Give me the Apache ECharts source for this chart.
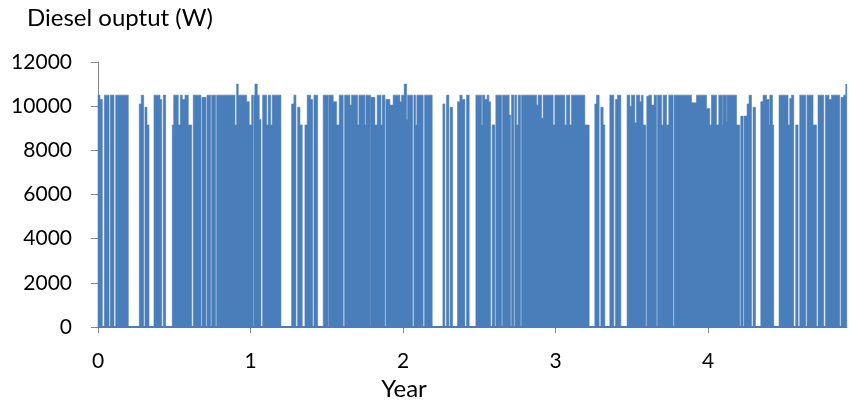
<!DOCTYPE html>
<html>
<head>
<meta charset="utf-8">
<script src="https://cdn.jsdelivr.net/npm/echarts@6/dist/echarts.min.js"></script>
<style>
html,body{margin:0;padding:0;background:#fff;}
#chart{width:849px;height:405px;}
</style>
</head>
<body>
<div id="chart"></div>
<script>
// Diesel output change points: from each year value onward, the output holds the given level (W)
const changeYear = [
0.0000,0.0131,0.0282,0.0413,0.0721,0.0806,0.1048,0.1160,0.1986,0.2706,
0.2837,0.2995,0.3080,0.3211,0.3342,0.3670,0.4063,0.4174,0.4279,0.4436,
0.4869,0.4961,0.5262,0.5393,0.5524,0.5701,0.5917,0.6140,0.6245,0.6750,
0.6815,0.7077,0.7143,0.7385,0.7451,0.7713,0.7779,0.8978,0.9089,0.9194,
0.9744,0.9915,1.0072,1.0177,1.0223,1.0288,1.0439,1.0570,1.0682,1.0793,
1.1055,1.1160,1.1317,1.1422,1.1992,1.2693,1.2844,1.2975,1.3087,1.3237,
1.3388,1.3565,1.3716,1.3939,1.4069,1.4155,1.4397,1.4764,1.5092,1.5130,
1.5419,1.5642,1.5813,1.6075,1.6166,1.6514,1.6625,1.7018,1.7104,1.7497,
1.7562,1.7870,1.7890,1.8152,1.8303,1.8545,1.8631,1.8807,1.8873,1.9135,
1.9351,1.9790,1.9902,2.0072,2.0229,2.0295,2.0623,2.0708,2.0819,2.0904,
2.1317,2.1409,2.1907,2.2608,2.2739,2.2851,2.3001,2.3087,2.3244,2.3572,
2.3722,2.3873,2.4050,2.4161,2.4332,2.4771,2.5144,2.5210,2.5360,2.5511,
2.5623,2.5734,2.5839,2.6016,2.6081,2.6455,2.6520,2.6953,2.7045,2.7110,
2.7261,2.7326,2.7438,2.7543,2.7700,2.7765,2.8748,2.8853,2.9076,2.9181,
2.9836,2.9948,3.0603,3.0714,3.0930,3.1042,3.1913,3.2195,3.2569,3.2680,
3.2851,3.2962,3.3113,3.3224,3.3552,3.3814,3.3925,3.4056,3.4273,3.4685,
3.4862,3.4974,3.5190,3.5301,3.5518,3.5629,3.5734,3.5911,3.5976,3.6107,
3.6284,3.6455,3.6612,3.6678,3.6940,3.7045,3.7267,3.7418,3.7700,3.7765,
3.8906,3.9233,3.9889,4.0105,4.0216,4.0544,4.0695,4.0937,4.0976,4.1199,
4.1239,4.1854,4.2071,4.2136,4.2287,4.2352,4.2549,4.2680,4.2837,4.2942,
4.3099,4.3447,4.3597,4.3820,4.3990,4.4037,4.4214,4.4299,4.4646,4.5236,
4.5347,4.5459,4.5609,4.5740,4.5891,4.6003,4.6396,4.6481,4.6874,4.7097,
4.7202,4.7575,4.7686,4.7923,4.8079,4.8624,4.8709,4.8886,4.9017,4.9083
];
const changeLevel = [
10500,10300,0,10500,0,10500,0,10500,0,10100,
10500,0,9950,9150,0,10500,10300,0,10500,0,
9150,10500,9150,10500,10300,10500,9150,0,10500,0,
10400,0,10500,0,10500,0,10500,9150,11000,10500,
10200,9150,10500,0,10500,11000,10500,9400,0,10500,
9150,10500,9150,10500,0,10100,10500,0,9950,9150,
0,9150,10500,10300,0,10500,0,10500,0,10500,
10200,9150,10500,0,10500,10050,10500,9150,10500,9150,
10500,0,10400,9150,10500,9150,10500,0,10300,10050,
10500,10200,10500,11000,9400,10500,0,10500,9150,10500,
0,10500,0,10100,0,10500,0,9950,0,10200,
10500,10300,0,10500,0,10500,9150,10500,10300,10500,
10200,0,9150,0,10500,0,10500,9600,0,10500,
0,10500,9150,10500,0,10500,10050,10500,9450,10500,
9150,10500,9150,10500,9150,10500,9150,0,10100,10500,
0,9950,9150,0,10500,0,10300,10500,0,10500,
10000,10500,9250,10500,10200,10500,9150,0,10450,10500,
10050,10500,0,10500,9150,10500,9150,10500,0,10500,
10150,10500,9900,9150,10500,9150,10500,9150,10500,9300,
10500,9150,0,9550,0,9550,10100,10500,0,9950,
0,10200,10500,10300,9150,10500,9150,0,10500,9150,
10350,10500,0,9150,0,10500,0,10500,9150,0,
10500,0,10500,10300,10500,0,10400,10500,11000,11000
];
const endYear = 4.9083;
const xTickValues = [0, 1, 2, 3, 4];
const yMin = 0, yMax = 12000, yStep = 2000;
const xMin = 0, xMax = 4.91;

// Group the change points into runs of consecutive "on" intervals: [start, end, level]...
const runs = [];
let cur = null;
changeYear.forEach((x, i) => {
  const next = i + 1 < changeYear.length ? changeYear[i + 1] : endYear;
  const lv = changeLevel[i];
  if (lv > 0 && next > x) {
    if (!cur) { cur = []; runs.push(cur); }
    cur.push([x, next, lv]);
  } else {
    cur = null;
  }
});
// Each data item is one run: flattened list of [start, end, level] triples
const runData = runs.map(r => r.flat());

const BLUE = '#4A7EBB';
const chart = echarts.init(document.getElementById('chart'), null, {renderer: 'canvas'});
const FONT = 'Lato';
chart.setOption({
  animation: false,
  backgroundColor: '#ffffff',
  textStyle: {fontFamily: FONT},
  grid: {left: 98, right: 2, top: 62, bottom: 78, containLabel: false},
  graphic: [
    {type: 'text', left: 27, top: 6,
     style: {text: 'Diesel ouptut (W)', font: '24px Lato', fill: '#000'}},
    {type: 'text', x: 404, y: 389,
     style: {text: 'Year', font: '24px Lato', fill: '#000', align: 'center', verticalAlign: 'middle'}}
  ],
  xAxis: {
    type: 'value', min: xMin, max: xMax, interval: 1,
    axisLine: {show: true, lineStyle: {color: '#868686', width: 1}},
    axisTick: {show: true, length: 6, lineStyle: {color: '#868686'}, customValues: xTickValues},
    axisLabel: {show: true, margin: 24, fontSize: 21, color: '#000', fontFamily: FONT,
      customValues: xTickValues,
      formatter: v => (Number.isInteger(v) ? String(v) : '')},
    splitLine: {show: false}
  },
  yAxis: {
    type: 'value', min: yMin, max: yMax, interval: yStep,
    axisLine: {show: true, lineStyle: {color: '#868686', width: 1}},
    axisTick: {show: true, length: 7, lineStyle: {color: '#868686'}},
    axisLabel: {show: true, margin: 26, fontSize: 21, color: '#000', fontFamily: FONT,
      formatter: v => String(v)},
    splitLine: {show: false}
  },
  series: [
    {
      type: 'line',
      data: [[xMin, 0], [endYear, 0]],
      showSymbol: false,
      symbol: 'none',
      lineStyle: {color: BLUE, width: 2},
      z: 3
    },
    {
      type: 'custom',
      data: runData,
      dimensions: runData.length ? runData.reduce((a, r) => Math.max(a, r.length), 0) : 3,
      encode: {x: 0, y: 2},
      renderItem: function (params, api) {
        const row = runData[params.dataIndex];
        const pts = [];
        for (let k = 0; k < row.length; k += 3) {
          const a = api.coord([row[k], row[k + 2]]);
          const b = api.coord([row[k + 1], row[k + 2]]);
          if (k === 0) pts.push(api.coord([row[k], 0]));
          pts.push(a, b);
        }
        pts.push(api.coord([row[row.length - 2], 0]));
        return {
          type: 'polygon',
          shape: {points: pts},
          style: {fill: BLUE, stroke: BLUE, lineWidth: 0.6}
        };
      },
      z: 2
    }
  ]
});
</script>
</body>
</html>
